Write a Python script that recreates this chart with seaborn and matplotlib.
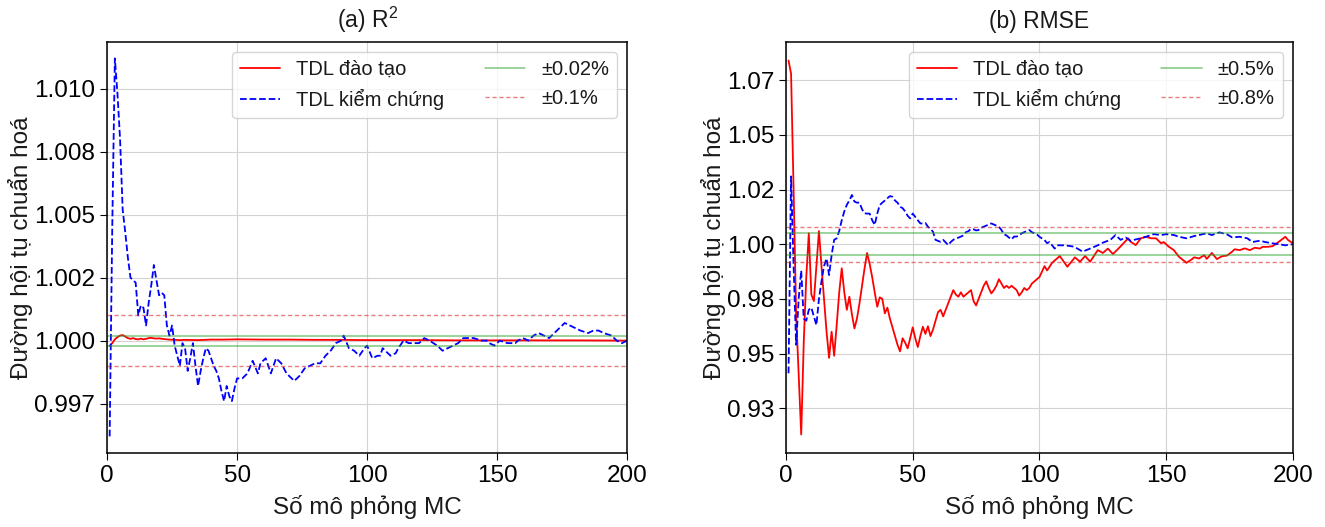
import matplotlib
matplotlib.use("Agg")
import matplotlib.pyplot as plt
from matplotlib.ticker import MultipleLocator, FixedLocator, FixedFormatter
import seaborn as sns

# ---- (a) R2: normalised convergence vs. number of MC simulations ----
r2_train_n = [1, 2, 3, 4, 5, 6, 7, 8, 9, 10, 11, 12, 13, 14, 15, 16, 17, 18, 19, 20,
              22, 24, 26, 28, 30, 35, 40, 45, 50, 60, 70, 80, 90, 100, 110, 120,
              135, 150, 165, 180, 200]
r2_train = [0.99979, 0.99990, 1.00005, 1.00014, 1.00020, 1.00022, 1.00016, 1.00010,
            1.00007, 1.00010, 1.00006, 1.00005, 1.00008, 1.00005, 1.00007, 1.00010,
            1.00011, 1.00009, 1.00008, 1.00009, 1.00006, 1.00004, 1.00003, 1.00002,
            1.00003, 1.00002, 1.00004, 1.00004, 1.00005, 1.00004, 1.00004, 1.00003,
            1.00003, 1.00002, 1.00002, 1.00002, 1.00001, 1.00001, 1.00001, 1.00001,
            1.00000]

r2_val_n = [1, 2, 3, 4, 5, 6, 7, 8, 9, 10, 11, 12, 13, 14, 15, 16, 17, 18, 19, 20,
            21, 22, 23, 24, 25, 26, 27, 28, 29, 30, 31, 32, 33, 34, 35, 36, 37, 38,
            39, 40, 41, 42, 43, 44, 45, 46, 47, 48, 49, 50, 52, 54, 56, 58, 59, 61,
            63, 65, 67, 69, 72, 74, 76, 78, 80, 82, 84, 86, 88, 90, 91, 93, 95, 97,
            99, 100, 102, 104, 105, 106, 108, 109, 111, 112, 114, 116, 118, 120, 122,
            124, 127, 129, 131, 133, 135, 137, 138, 141, 144, 146, 147, 149, 151,
            154, 157, 158, 160, 162, 164, 166, 168, 170, 172, 174, 176, 178, 180,
            182, 185, 187, 189, 191, 194, 196, 198, 200]
r2_val = [0.9962, 1.0045, 1.0112, 1.0098, 1.0080, 1.0052, 1.0043, 1.0033, 1.0025,
          1.0024, 1.0023, 1.0010, 1.0014, 1.0013, 1.0006, 1.0015, 1.0022, 1.0030,
          1.0024, 1.0018, 1.0019, 1.0018, 1.0006, 1.0002, 1.0006, 0.9998, 0.9994,
          0.9990, 0.9999, 0.9997, 0.9988, 0.9993, 0.9999, 0.9990, 0.9982, 0.9988,
          0.9993, 0.9997, 0.9996, 0.9993, 0.9990, 0.9988, 0.9985, 0.9980, 0.9976,
          0.9982, 0.9978, 0.9976, 0.9981, 0.9985, 0.9985, 0.9987, 0.9992, 0.9987,
          0.9991, 0.9993, 0.9987, 0.9993, 0.9991, 0.9987, 0.9984, 0.9986, 0.9989,
          0.9990, 0.9991, 0.9991, 0.9994, 0.9996, 0.9999, 1.0000, 1.0002, 0.9997,
          0.9996, 0.9994, 0.9997, 0.9998, 0.9993, 0.9994, 0.9994, 0.9997, 0.9995,
          0.9994, 0.9995, 0.9997, 1.0000, 0.9999, 0.9999, 0.9999, 1.0001, 1.0000,
          0.9998, 0.9996, 0.9997, 0.9998, 0.9999, 1.0001, 1.0001, 1.0001, 1.0000,
          1.0000, 0.9999, 0.9998, 1.0000, 0.9999, 0.9999, 1.0000, 1.0001, 1.0000,
          1.0002, 1.0003, 1.0002, 1.0001, 1.0003, 1.0005, 1.0007, 1.0006, 1.0005,
          1.0004, 1.0003, 1.0004, 1.0004, 1.0003, 1.0002, 1.0000, 0.9999, 1.0000]

# ---- (b) RMSE ----
rmse_train_n = list(range(1, 101)) + [102, 103, 105, 108, 111, 114, 116, 118, 120,
                                       122, 123, 125, 127, 129, 132, 135, 136, 138,
                                       140, 142, 144, 146, 148, 149, 151, 153, 155,
                                       158, 160, 161, 163, 165, 166, 168, 170, 172,
                                       174, 176, 177, 179, 181, 183, 185, 187, 188,
                                       190, 192, 195, 197, 198, 200]
rmse_train = [1.084, 1.078, 1.025, 0.968, 0.940, 0.913, 0.955, 0.985, 1.005, 0.977,
              0.974, 0.990, 1.006, 0.990, 0.975, 0.960, 0.948, 0.960, 0.949, 0.963,
              0.978, 0.989, 0.978, 0.970, 0.976, 0.968, 0.9615, 0.966, 0.973, 0.981,
              0.989, 0.996, 0.991, 0.985, 0.978, 0.9714, 0.9757, 0.975, 0.9684, 0.971,
              0.966, 0.962, 0.958, 0.954, 0.951, 0.957, 0.955, 0.9524, 0.957, 0.962,
              0.957, 0.953, 0.958, 0.9623, 0.959, 0.9625, 0.958, 0.961, 0.965, 0.969,
              0.970, 0.967, 0.970, 0.973, 0.976, 0.979, 0.977, 0.976, 0.978, 0.976,
              0.977, 0.978, 0.979, 0.974, 0.972, 0.975, 0.978, 0.981, 0.983, 0.980,
              0.9775, 0.979, 0.981, 0.984, 0.982, 0.980, 0.981, 0.980, 0.981, 0.980,
              0.979, 0.9765, 0.978, 0.980, 0.979, 0.980, 0.982, 0.983, 0.984, 0.985,
              0.990, 0.988, 0.9915, 0.9946, 0.9897, 0.9940, 0.9920, 0.9946, 0.9920,
              0.9955, 0.9973, 0.9960, 0.9980, 0.9955, 0.9990, 1.0027, 1.0011, 0.9996,
              1.0027, 1.0034, 1.0027, 1.0027, 1.0004, 1.0010, 0.9989, 0.9973, 0.9943,
              0.9915, 0.9930, 0.9940, 0.9935, 0.9950, 0.9933, 0.9960, 0.9932, 0.9945,
              0.9948, 0.9966, 0.9977, 0.9973, 0.9981, 0.9973, 0.9984, 0.9980, 0.9988,
              0.9988, 0.9991, 1.0016, 1.0034, 1.0020, 1.0004]

rmse_val_n = list(range(1, 101)) + [102, 103, 104, 106, 107, 110, 113, 115, 117, 120,
                                     123, 125, 128, 130, 132, 134, 136, 138, 140, 142,
                                     145, 148, 150, 153, 155, 158, 161, 163, 166, 168,
                                     171, 174, 176, 179, 182, 184, 187, 189, 192, 195,
                                     197, 200]
rmse_val = [0.941, 1.031, 0.990, 0.954, 0.975, 0.988, 0.966, 0.965, 0.970, 0.971,
            0.967, 0.963, 0.975, 0.983, 0.990, 0.9935, 0.9859, 0.995, 1.002, 1.0027,
            1.006, 1.011, 1.015, 1.018, 1.020, 1.0225, 1.0195, 1.019, 1.019, 1.016,
            1.0141, 1.014, 1.014, 1.011, 1.0088, 1.014, 1.0179, 1.019, 1.020, 1.021,
            1.022, 1.0217, 1.020, 1.019, 1.0171, 1.0165, 1.015, 1.013, 1.0118, 1.014,
            1.0125, 1.011, 1.0095, 1.0095, 1.0097, 1.008, 1.007, 1.0057, 1.002, 1.0015,
            1.0011, 1.002, 1.0008, 0.9996, 1.001, 1.002, 1.0027, 1.003, 1.0035, 1.004,
            1.0055, 1.006, 1.007, 1.0068, 1.0063, 1.0065, 1.0075, 1.008, 1.0085, 1.009,
            1.0095, 1.009, 1.0085, 1.008, 1.0065, 1.0045, 1.004, 1.003, 1.0022, 1.0035,
            1.0035, 1.004, 1.005, 1.0055, 1.006, 1.0065, 1.0055, 1.005, 1.0045, 1.0034,
            1.0019, 1.0005, 1.0010, 0.9980, 0.9995, 0.9995, 0.9990, 0.9980, 0.9966,
            0.9980, 0.9995, 1.0007, 1.0020, 1.0042, 1.0020, 1.0031, 1.0015, 1.0022,
            1.0027, 1.0034, 1.0046, 1.0042, 1.0046, 1.0042, 1.0034, 1.0027, 1.0037,
            1.0042, 1.0050, 1.0042, 1.0054, 1.0045, 1.0031, 1.0034, 1.0027, 1.0010,
            1.0016, 1.0010, 1.0004, 0.9999, 0.9995, 1.0000]

# y tick positions and their printed labels
r2_yticks = [0.9975, 1.0, 1.0025, 1.005, 1.0075, 1.01]
r2_yticklabels = ["0.997", "1.000", "1.002", "1.005", "1.008", "1.010"]
rmse_yticks = [0.925, 0.95, 0.975, 1.0, 1.025, 1.05, 1.075]
rmse_yticklabels = ["0.93", "0.95", "0.98", "1.00", "1.02", "1.05", "1.07"]

titles = ["(a) R$^2$", "(b) RMSE"]
band_inner = [0.0002, 0.005]
band_outer = [0.001, 0.008]
band_labels = [("±0.02%", "±0.1%"), ("±0.5%", "±0.8%")]
series_labels = ["TDL đào tạo", "TDL kiểm chứng"]
xlabel = "Số mô phỏng MC"
ylabel = "Đường hội tụ chuẩn hoá"

sns.set_style("whitegrid", {
    "axes.edgecolor": "black",
    "grid.color": "#d3d3d3",
    "xtick.bottom": True,
    "ytick.left": True,
    "xtick.color": "black",
    "ytick.color": "black",
    "text.color": "#1a1a1a",
    "axes.labelcolor": "#1a1a1a",
})
plt.rcParams["font.family"] = ["Liberation Sans", "DejaVu Sans"]
plt.rcParams["mathtext.fontset"] = "custom"
plt.rcParams["mathtext.rm"] = "Liberation Sans"
plt.rcParams["mathtext.it"] = "Liberation Sans:italic"
plt.rcParams["xtick.major.size"] = 5
plt.rcParams["ytick.major.size"] = 5
plt.rcParams["axes.linewidth"] = 1.1

fig = plt.figure(figsize=(13.25, 5.27), dpi=100)
ax1 = fig.add_axes([0.0808, 0.1404, 0.3925, 0.7799])
ax2 = fig.add_axes([0.5932, 0.1404, 0.3826, 0.7799])

panels = [
    (ax1, r2_train_n, r2_train, r2_val_n, r2_val, (0.99554, 1.01185),
     r2_yticks, r2_yticklabels),
    (ax2, rmse_train_n, rmse_train, rmse_val_n, rmse_val, (0.90453, 1.09246),
     rmse_yticks, rmse_yticklabels),
]

for i, (ax, tn, tv, vn, vv, ylim, yt, ytl) in enumerate(panels):
    sns.lineplot(x=tn, y=tv, ax=ax, color="red", linewidth=1.3,
                 label=series_labels[0])
    sns.lineplot(x=vn, y=vv, ax=ax, color="blue", linewidth=1.3,
                 linestyle="--", label=series_labels[1])
    ax.axhline(1 + band_inner[i], color="tab:green", alpha=0.6, lw=1.1,
               label=band_labels[i][0])
    ax.axhline(1 - band_inner[i], color="tab:green", alpha=0.6, lw=1.1)
    ax.axhline(1 + band_outer[i], color="tab:red", alpha=0.6, lw=1.0,
               linestyle=(0, (3, 2)), label=band_labels[i][1])
    ax.axhline(1 - band_outer[i], color="tab:red", alpha=0.6, lw=1.0,
               linestyle=(0, (3, 2)))

    ax.set_xlim(0, 200)
    ax.set_ylim(*ylim)
    ax.xaxis.set_major_locator(MultipleLocator(50))
    ax.yaxis.set_major_locator(FixedLocator(yt))
    ax.yaxis.set_major_formatter(FixedFormatter(ytl))
    ax.tick_params(labelsize=17.5)
    ax.set_xlabel(xlabel, fontsize=17.5, labelpad=6)
    ax.set_ylabel(ylabel, fontsize=17.5, labelpad=0.5)
    ax.set_title(titles[i], fontsize=16.5, pad=10)
    ax.legend(loc="upper right", ncol=2, fontsize=14.5, handlelength=2.0,
              columnspacing=2.0)

fig.savefig("out.png", dpi=100)
